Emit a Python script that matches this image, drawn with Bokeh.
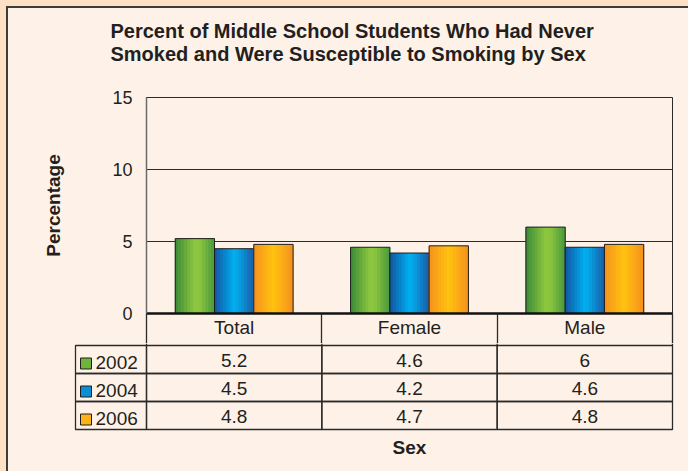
from bokeh.plotting import figure
from bokeh.models import (Range1d, FixedTicker, ColumnDataSource,
                          Spacer, Row, Column)
from bokeh.transform import dodge
from bokeh.embed import file_html
from bokeh.resources import INLINE
from bokeh.core.properties import value

# ---------------- data ----------------
title_lines = ["Percent of Middle School Students Who Had Never",
               "Smoked and Were Susceptible to Smoking by Sex"]
categories = ["Total", "Female", "Male"]
years = ["2002", "2004", "2006"]
values_2002 = [5.2, 4.6, 6]
values_2004 = [4.5, 4.2, 4.6]
values_2006 = [4.8, 4.7, 4.8]
y_ticks = [0, 5, 10, 15]
y_label = "Percentage"
x_label = "Sex"

# ---------------- style ----------------
OFF = 8            # figures start 8px in (6px peach frame + 2px dark edge)
W = 688 - OFF
FONT = "Liberation Sans"
TXT = "#231f20"
BG = "#fef2e8"
PEACH = "#fde1c4"
EDGE = "#3c3c3c"
LINE = "#2a2a2a"

# plot-frame geometry in page pixels
FL, FR, FT, FB = 146, 672, 97, 313
TITLE_BOTTOM = 74                  # page y where the title strip ends
TABLE_TOP = 343                    # page y where the table strip starts

grad_stops = {
    "2002": [(0.0, "#3a8a37"), (0.5, "#8cc63f"), (0.62, "#8cc63f"), (1.0, "#4a9a3c")],
    "2004": [(0.0, "#14539f"), (0.5, "#00aeef"), (0.6, "#05a6e6"), (1.0, "#1a5da8")],
    "2006": [(0.0, "#f5901e"), (0.5, "#ffc20e"), (0.62, "#fdb814"), (1.0, "#f5901e")],
}
legend_col = {"2002": "#6fb33c", "2004": "#0a8fd6", "2006": "#fbb316"}


def hex2rgb(h):
    h = h.lstrip("#")
    return tuple(int(h[i:i + 2], 16) for i in (0, 2, 4))


def grad(stops, t):
    for (t0, c0), (t1, c1) in zip(stops[:-1], stops[1:]):
        if t0 <= t <= t1:
            f = 0 if t1 == t0 else (t - t0) / (t1 - t0)
            a, b = hex2rgb(c0), hex2rgb(c1)
            return "#%02x%02x%02x" % tuple(round(x + (y - x) * f) for x, y in zip(a, b))
    return stops[-1][1]


series = [values_2002, values_2004, values_2006]
n = len(categories)
centers = [i + 0.5 for i in range(n)]      # category slot centres on the x scale
src = ColumnDataSource(dict(cat=categories, xc=centers,
                            **{y: v for y, v in zip(years, series)}))
cw = (FR - FL) / n                          # px per category slot


def blank(fig):
    fig.background_fill_color = BG
    fig.border_fill_color = BG
    fig.outline_line_color = None
    fig.grid.visible = False


# ---------------- title strip ----------------
H0 = TITLE_BOTTOM - OFF
p0 = figure(width=W, height=H0, x_range=Range1d(OFF, 688), y_range=Range1d(TITLE_BOTTOM, OFF),
            x_axis_location=None, y_axis_location=None, toolbar_location=None,
            output_backend="svg", frame_align=False,
            min_border_left=0, min_border_right=0, min_border_top=0, min_border_bottom=0)
blank(p0)
p0.text(x=[110, 110], y=[30, 53], text=title_lines, text_align="left",
        text_baseline="alphabetic", text_font=value(FONT), text_font_size="20px",
        text_font_style="bold", text_color=TXT)

# ---------------- chart figure ----------------
p1 = figure(width=W, height=TABLE_TOP - TITLE_BOTTOM,
            x_range=Range1d(0, n), y_range=Range1d(y_ticks[0], y_ticks[-1]),
            toolbar_location=None, output_backend="svg", frame_align=False,
            min_border_left=FL - OFF, min_border_right=W + OFF - FR,
            min_border_top=FT - TITLE_BOTTOM, min_border_bottom=TABLE_TOP - FB)
p1.background_fill_color = BG
p1.border_fill_color = BG
p1.outline_line_color = LINE
p1.outline_line_width = 1

p1.xgrid.visible = False
p1.ygrid[0].ticker = FixedTicker(ticks=y_ticks[1:-1])
p1.ygrid[0].grid_line_color = LINE
p1.ygrid[0].grid_line_width = 1

ya = p1.yaxis[0]
ya.ticker = FixedTicker(ticks=y_ticks)
ya.major_tick_out = 0
ya.major_tick_in = 0
ya.minor_tick_out = 0
ya.minor_tick_in = 0
ya.axis_line_color = "#6a6a6a"
ya.axis_line_width = 1.5
ya.major_label_standoff = 14
ya.major_label_text_font = FONT
ya.major_label_text_font_size = "18px"
ya.major_label_text_color = TXT
ya.axis_label = y_label
ya.axis_label_standoff = 45
ya.axis_label_text_font = FONT
ya.axis_label_text_font_size = "19px"
ya.axis_label_text_font_style = "bold"
ya.axis_label_text_color = TXT

xa = p1.xaxis[0]
xa.ticker = FixedTicker(ticks=centers, minor_ticks=list(range(n + 1)))
xa.major_label_overrides = {c: lab for c, lab in zip(centers, categories)}
xa.axis_line_color = "#111111"
xa.axis_line_width = 2.5
xa.major_tick_out = 0
xa.major_tick_in = 0
xa.minor_tick_in = 0
xa.minor_tick_out = 32
xa.minor_tick_line_color = LINE
xa.minor_tick_line_width = 1.3
xa.major_label_standoff = -29
xa.major_label_text_font = FONT
xa.major_label_text_font_size = "19px"
xa.major_label_text_color = TXT

bw = 0.224
N = 13
for j, yr in enumerate(years):
    off = (j - 1) * bw
    for k in range(N):
        t = (k + 0.5) / N
        xo = off - bw / 2 + (k + 0.5) * bw / N
        p1.vbar(x=dodge("xc", xo), top=yr, width=bw / N * 1.25,
                bottom=0, source=src, fill_color=grad(grad_stops[yr], t),
                line_color=None)
    p1.vbar(x=dodge("xc", off), top=yr, width=bw, bottom=0,
            source=src, fill_color=None, line_color="#1e1e1e", line_width=1)

# ---------------- table figure ----------------
rh = 28                        # px per table row
leg_left = -(FL - 75) / cw
p2 = figure(width=W, height=471 - TABLE_TOP,
            x_range=Range1d(-(FL - 73) / cw, n + 2 / cw),
            y_range=Range1d((471 - 345) / rh, (TABLE_TOP - 345) / rh),
            x_axis_location=None, y_axis_location=None,
            toolbar_location=None, output_backend="svg", frame_align=False,
            min_border_left=73 - OFF, min_border_right=W + OFF - 674,
            min_border_top=0, min_border_bottom=0)
blank(p2)

nr = len(years)
L, R, T, B = [], [], [], []
for r in range(nr):
    L.append(leg_left); R.append(0); T.append(r); B.append(r + 1)
    for c in range(n):
        L.append(c); R.append(c + 1); T.append(r); B.append(r + 1)
p2.quad(left=L, right=R, top=T, bottom=B, fill_color=None,
        line_color=LINE, line_width=1.3)
p2.segment(x0=list(range(n + 1)), x1=list(range(n + 1)),
           y0=[(TABLE_TOP - 345) / rh] * (n + 1), y1=[0] * (n + 1),
           line_color=LINE, line_width=1.3)

tx, ty, tt = [], [], []
for r, ser in enumerate(series):
    for c, v in enumerate(ser):
        tx.append(centers[c]); ty.append(r + 0.5); tt.append(str(v))
p2.text(x=tx, y=ty, text=tt, text_align="center", text_baseline="middle",
        text_font=value(FONT), text_font_size="19px", text_color=TXT, y_offset=1)

p2.rect(x=[leg_left + 10.5 / cw] * nr, y=[r + 0.5 + 4 / rh for r in range(nr)],
        width=11, height=11, width_units="screen", height_units="screen",
        fill_color=[legend_col[y] for y in years], line_color="#1e1e1e", line_width=1)
p2.text(x=[leg_left + 20 / cw] * nr, y=[r + 0.5 for r in range(nr)], text=years,
        text_align="left", text_baseline="middle", text_font=value(FONT),
        text_font_size="19px", text_color=TXT, y_offset=3)

p2.text(x=[n / 2], y=[(447 - 345) / rh], text=[x_label], text_align="center",
        text_baseline="middle", text_font=value(FONT), text_font_size="19px",
        text_font_style="bold", text_color=TXT)

# ---------------- frame: peach margin + dark edge ----------------
charts = Column(children=[p0, p1, p2], styles={"background-color": BG})
inner = Column(children=[Spacer(width=682, height=2, styles={"background-color": EDGE}),
                         Row(children=[Spacer(width=2, height=463,
                                              styles={"background-color": EDGE}),
                                       charts])])
root = Column(children=[Spacer(width=688, height=6),
                        Row(children=[Spacer(width=6, height=465), inner])],
              styles={"background-color": PEACH})

open("out.html", "w").write(file_html(root, INLINE))
